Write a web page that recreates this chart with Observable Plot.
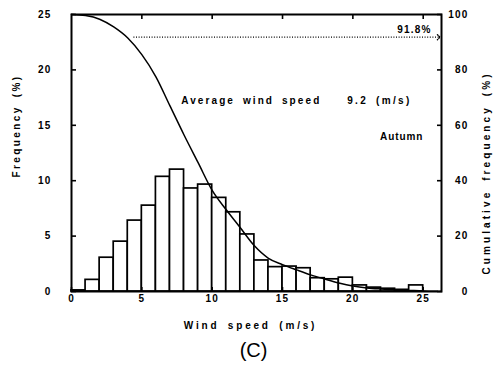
<!DOCTYPE html>
<html>
<head>
<meta charset="utf-8">
<script src="https://cdn.jsdelivr.net/npm/d3@7"></script>
<script src="https://cdn.jsdelivr.net/npm/@observablehq/plot@0.6"></script>
<style>
  body { margin: 0; background: #fff; }
  #chart svg { font-family: "Liberation Sans", Arial, sans-serif; font-weight: bold; }
</style>
</head>
<body>
<div id="chart"></div>
<script>
// Histogram bins (m/s, lower edge) and frequency (%)
const binStart = [0,1,2,3,4,5,6,7,8,9,10,11,12,13,14,15,16,17,18,19,20,21,22,23,24];
const frequency = [0.1,1.05,3.05,4.5,6.4,7.75,10.35,11.0,9.3,9.65,8.45,7.15,5.15,2.8,2.2,2.25,2.1,1.2,1.1,1.25,0.55,0.35,0.25,0.15,0.55];

// Cumulative (exceedance) frequency curve (%)
const cumSpeed = [0,1,2,3,4,5,6,7,8,9,10,11,12,13,14,15,16,17,18,19,20,21,22,23,24,25,26];
const cumFreq = [100,99.6,98.3,95.5,91.5,85.5,77.5,67,56.5,46.5,36.5,29.5,23,16.5,12,9.7,7.8,6,4.5,3.1,2,1.3,0.9,0.6,0.4,0.2,0.1];

const xTicks = [0,5,10,15,20,25];
const yTicks = [0,5,10,15,20,25];
const cumTicks = [0,20,40,60,80,100];
const level = 91.8;
const meanSpeed = 9.2;
const season = "Autumn";

const bars = binStart.map((s, i) => ({x1: s, x2: s + 1, f: frequency[i]}));
const curve = cumSpeed.map((s, i) => ({x: s, c: cumFreq[i]}));
const cumToY = c => c / 4; // right axis 0-100 onto left 0-25

const plot = Plot.plot({
  width: 499,
  height: 371,
  marginLeft: 71,
  marginRight: 58,
  marginTop: 14,
  marginBottom: 80,
  style: {fontSize: "10px", letterSpacing: "1.2px", wordSpacing: "3px", overflow: "visible"},
  x: {domain: [0, 26.3]},
  y: {domain: [0, 25]},
  marks: [
    Plot.rect(bars, {x1: "x1", x2: "x2", y1: 0, y2: "f", fill: "white", stroke: "black", strokeWidth: 1.7}),
    Plot.line(curve, {x: "x", y: d => cumToY(d.c), curve: "monotone-x", stroke: "black", strokeWidth: 1.5}),
    Plot.link([level], {x1: 4.4, x2: 26.1, y1: d => cumToY(d), y2: d => cumToY(d), stroke: "black", strokeWidth: 1.3, strokeDasharray: "1,1.6", markerEnd: "arrow"}),
    Plot.text([level], {x: 25.6, y: d => cumToY(d), dy: -7, text: d => d.toFixed(1) + "%", textAnchor: "end", fontSize: 10}),
    Plot.text(["Average wind speed"], {x: 7.8, y: 17.2, text: d => d, textAnchor: "start"}),
    Plot.text([meanSpeed], {x: 19.6, y: 17.2, text: d => d.toFixed(1) + " (m/s)", textAnchor: "start"}),
    Plot.text([season], {x: 25.0, y: 14.0, text: d => d, textAnchor: "end"}),
    Plot.axisY(yTicks, {anchor: "left", tickSize: -5, tickPadding: 25, label: null, strokeWidth: 1.6}),
    Plot.axisY(cumTicks.map(cumToY), {anchor: "right", tickSize: -5, tickPadding: 32, textAnchor: "end", tickFormat: d => d * 4, label: null, strokeWidth: 1.6}),
    Plot.axisX(xTicks, {anchor: "bottom", tickSize: -4, tickPadding: 7, label: null, strokeWidth: 1.6}),
    Plot.axisX(xTicks.slice(1), {anchor: "top", tickSize: -4, tickFormat: () => "", label: null, strokeWidth: 1.6}),
    Plot.frame({stroke: "black", strokeWidth: 2}),
    Plot.text(["Frequency (%)"], {frameAnchor: "left", textAnchor: "middle", dx: -55, dy: -27, rotate: -90, text: d => d}),
    Plot.text(["Cumulative frequency (%)"], {frameAnchor: "right", textAnchor: "middle", dx: 45, dy: 20, rotate: -90, text: d => d}),
    Plot.text(["Wind speed (m/s)"], {frameAnchor: "bottom", dy: 37, dx: -6, text: d => d}),
    Plot.text(["(C)"], {frameAnchor: "bottom", dy: 65, text: d => d, fontSize: 20, fontWeight: "normal", dx: -3})
  ]
});

const spacing = {
  "Average wind speed": "2.1px",
  "9.2 (m/s)": "2.3px",
  "Autumn": "0.9px",
  "Wind speed (m/s)": "2.8px",
  "Frequency (%)": "2.4px",
  "Cumulative frequency (%)": "3.1px",
  "(C)": "0px"
};
d3.select(plot).selectAll("text").each(function () {
  const s = spacing[this.textContent];
  if (s) d3.select(this).style("letter-spacing", s);
});
document.getElementById("chart").appendChild(plot);
</script>
</body>
</html>
